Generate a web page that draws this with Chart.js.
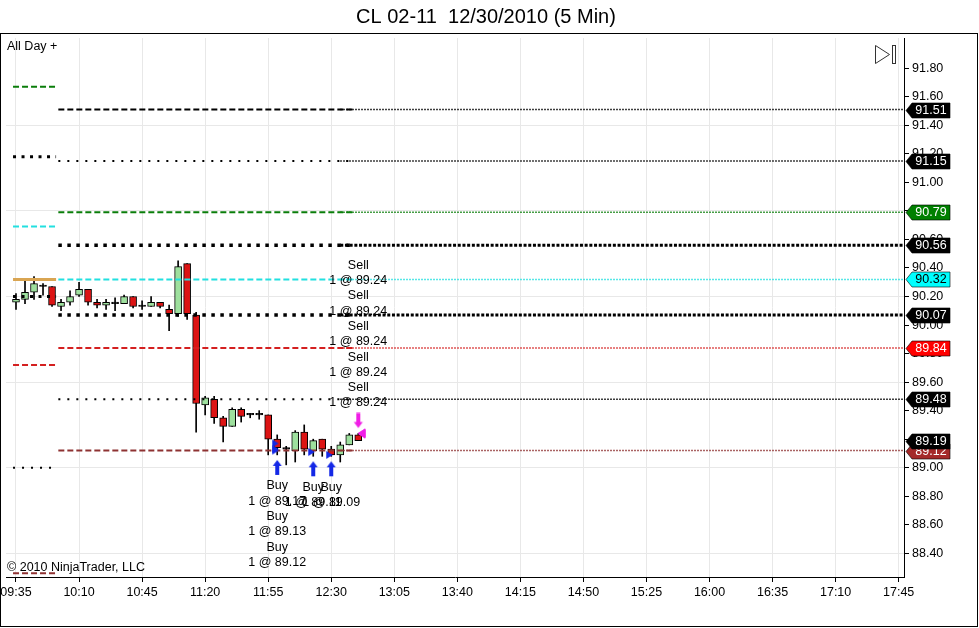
<!DOCTYPE html>
<html>
<head>
<meta charset="utf-8">
<title>CL 02-11 12/30/2010 (5 Min)</title>
<script src="https://cdn.jsdelivr.net/npm/chart.js@4.4.0/dist/chart.umd.min.js"></script>
<style>
    html, body { margin: 0; padding: 0; background: #ffffff; }
    #wrap { width: 979px; height: 628px; position: relative; }
</style>
</head>
<body>
<div id="wrap"><canvas id="chart"></canvas></div>
<script>
// 5 minute bars of CL 02-11, first bar at 09:35
const OPEN  = [90.16, 90.18, 90.23, 90.27, 90.27, 90.13, 90.16, 90.21, 90.25, 90.16,
               90.14, 90.15, 90.15, 90.20, 90.13, 90.13, 90.16, 90.11, 90.08, 90.43,
               90.07, 89.44, 89.48, 89.35, 89.29, 89.41, 89.37, 89.37, 89.37, 89.20,
               89.13, 89.12, 89.25, 89.12, 89.20, 89.13, 89.09, 89.16, 89.23];
const HIGH  = [90.22, 90.32, 90.34, 90.29, 90.27, 90.18, 90.24, 90.30, 90.25, 90.18,
               90.18, 90.19, 90.21, 90.20, 90.17, 90.20, 90.16, 90.14, 90.45, 90.43,
               90.09, 89.50, 89.50, 89.36, 89.42, 89.42, 89.38, 89.40, 89.37, 89.23,
               89.15, 89.26, 89.30, 89.20, 89.20, 89.15, 89.18, 89.24, 89.24];
const LOW   = [90.11, 90.15, 90.18, 90.21, 90.13, 90.10, 90.14, 90.20, 90.14, 90.12,
               90.11, 90.10, 90.15, 90.12, 90.11, 90.13, 90.12, 89.96, 90.06, 90.04,
               89.25, 89.37, 89.31, 89.18, 89.29, 89.32, 89.35, 89.34, 89.09, 89.09,
               89.02, 89.04, 89.09, 89.08, 89.08, 89.08, 89.04, 89.16, 89.19];
const CLOSE = [90.18, 90.23, 90.29, 90.27, 90.14, 90.16, 90.20, 90.25, 90.16, 90.14,
               90.16, 90.15, 90.20, 90.13, 90.13, 90.16, 90.13, 90.08, 90.41, 90.08,
               89.45, 89.49, 89.35, 89.29, 89.41, 89.36, 89.37, 89.37, 89.20, 89.14,
               89.13, 89.25, 89.13, 89.19, 89.13, 89.09, 89.16, 89.23, 89.19];

const TIME_LABELS = ['09:35', '10:10', '10:45', '11:20', '11:55', '12:30', '13:05', '13:40',
                     '14:15', '14:50', '15:25', '16:00', '16:35', '17:10', '17:45'];
const PRICE_TICKS = [88.40, 88.60, 88.80, 89.00, 89.20, 89.40, 89.60, 89.80, 90.00,
                     90.20, 90.40, 90.60, 90.80, 91.00, 91.20, 91.40, 91.60, 91.80];

// pivot style levels: today's session and the prior one
const TODAY_LEVELS = [91.51, 91.15, 90.79, 90.56, 90.32, 90.07, 89.84, 89.48, 89.12];
const PRIOR_LEVELS = [91.67, 91.18, 90.69, 90.32, 90.20, 89.72, 89.00, 88.26];

// executions
const BUY_BARS   = [29, 29, 29, 33, 35];
const BUY_PRICES = [89.17, 89.13, 89.12, 89.11, 89.09];
const BUY_QTY    = [1, 1, 1, 1, 1];
const SELL_BARS   = [38, 38, 38, 38, 38];
const SELL_PRICES = [89.24, 89.24, 89.24, 89.24, 89.24];
const SELL_QTY    = [1, 1, 1, 1, 1];

// ---- styling / layout ----
const FONT = '"Liberation Sans", Arial, sans-serif';
const BARS_PER_LABEL = 7;          // 35 minutes between time labels
const FIRST_BAR_PX = 16;           // where bar 0 sits on the canvas
const X_MIN = -1.554, X_MAX = 98.59;
const Y_MIN = 88.234, Y_MAX = 92.012;
const PRIOR_SPAN = [-0.33, 4.45];
const TODAY_SPAN = [4.7, 37.4];
const EXTEND_FROM = 36;

const LINE_STYLES = {
    blackDash:   { color: '#000000', dash: [6, 3], width: 2 },
    blackDot:    { color: '#000000', dash: [2, 7], width: 2 },
    blackSquare: { color: '#000000', dash: [3.5, 5.5], width: 3.5 },
    blackSmallSq:{ color: '#000000', dash: [3, 5.5], width: 3 },
    greenDash:   { color: '#0a7d0a', dash: [6, 3], width: 2 },
    cyanDash:    { color: '#22e0e0', dash: [6, 3], width: 2 },
    redDash:     { color: '#d42020', dash: [6, 3], width: 2 },
    brownDash:   { color: '#8e3232', dash: [6, 3], width: 2 },
    orangeSolid: { color: '#d9a552', dash: [], width: 3 }
};
const TODAY_STYLE = ['blackDash', 'blackDot', 'greenDash', 'blackSquare', 'cyanDash',
                     'blackSquare', 'redDash', 'blackDot', 'brownDash'];
const PRIOR_STYLE = ['greenDash', 'blackSmallSq', 'cyanDash', 'orangeSolid', 'blackSmallSq',
                     'redDash', 'blackDot', 'brownDash'];
const FLAG_STYLE = [
    { bg: '#000000', fg: '#ffffff' }, { bg: '#000000', fg: '#ffffff' },
    { bg: '#008000', fg: '#ffffff' }, { bg: '#000000', fg: '#ffffff' },
    { bg: '#00ffff', fg: '#000000' }, { bg: '#000000', fg: '#ffffff' },
    { bg: '#ff0000', fg: '#ffffff' }, { bg: '#000000', fg: '#ffffff' },
    { bg: '#a52a2a', fg: '#ffffff' }
];

const UP_COLOR = '#9ee09e';
const DOWN_COLOR = '#dc1414';

function lineSet(span, value, color, dash, width) {
    return {
        type: 'line',
        data: [{ x: span[0], y: value }, { x: span[1], y: value }],
        borderColor: color,
        borderDash: dash,
        borderWidth: width,
        borderCapStyle: 'butt',
        pointRadius: 0,
        fill: false,
        order: 1
    };
}

const levelSets = [];
PRIOR_LEVELS.forEach((v, k) => {
    const s = LINE_STYLES[PRIOR_STYLE[k]];
    levelSets.push(lineSet(PRIOR_SPAN, v, s.color, s.dash, s.width));
});
TODAY_LEVELS.forEach((v, k) => {
    const s = LINE_STYLES[TODAY_STYLE[k]];
    levelSets.push(lineSet(TODAY_SPAN, v, s.color, s.dash, s.width));
    // thin dotted extension towards the price axis
    const square = TODAY_STYLE[k] === 'blackSquare';
    levelSets.push(lineSet([EXTEND_FROM, X_MAX], v, s.color,
        square ? [3, 1.7] : [1.5, 1.5], square ? 3 : 1.5));
});

// candle colours
const bodyColors = OPEN.map((o, i) => CLOSE[i] > o ? UP_COLOR : (CLOSE[i] < o ? DOWN_COLOR : '#000000'));

// marker images
function markerCanvas(w, h, draw) {
    const c = document.createElement('canvas');
    c.width = w; c.height = h;
    const g = c.getContext('2d');
    draw(g, w / 2, h / 2);
    return c;
}
function arrow(g, cx, tipY, dir, color) {
    // dir = 1 points up (body below tip), -1 points down
    g.fillStyle = color;
    g.beginPath();
    g.moveTo(cx, tipY);
    g.lineTo(cx + 4.5, tipY + dir * 6);
    g.lineTo(cx + 2, tipY + dir * 6);
    g.lineTo(cx + 2, tipY + dir * 15);
    g.lineTo(cx - 2, tipY + dir * 15);
    g.lineTo(cx - 2, tipY + dir * 6);
    g.lineTo(cx - 4.5, tipY + dir * 6);
    g.closePath();
    g.fill();
}
const buyArrowImg = markerCanvas(12, 42, (g, cx, cy) => arrow(g, cx, cy + 5, 1, '#1428e6'));
const sellArrowImg = markerCanvas(12, 42, (g, cx, cy) => arrow(g, cx, cy - 5.5, -1, '#f01ee6'));
const entryImg = markerCanvas(14, 12, (g, cx, cy) => {
    g.fillStyle = '#1428e6';
    g.beginPath();
    g.moveTo(cx - 5, cy - 4); g.lineTo(cx + 1.5, cy); g.lineTo(cx - 5, cy + 4);
    g.closePath(); g.fill();
});
const exitImg = markerCanvas(18, 12, (g, cx, cy) => {
    g.fillStyle = '#f01ee6';
    g.beginPath();
    g.moveTo(cx, cy); g.lineTo(cx + 7, cy - 4.5); g.lineTo(cx + 7, cy + 4.5);
    g.closePath(); g.fill();
});

const buyArrowBars = [...new Set(BUY_BARS)];
const sellArrowBars = [...new Set(SELL_BARS)];

function markerSet(data, img) {
    return {
        type: 'scatter',
        data: data,
        pointStyle: img,
        pointRadius: 5,
        showLine: false,
        order: 0
    };
}

// chart furniture and execution labels
const decorPlugin = {
    id: 'decor',
    afterLayout(chart) {
        // keep bar 0 at FIRST_BAR_PX whatever left padding the layout ended up with
        const x = chart.scales.x;
        const perBar = (x.right - FIRST_BAR_PX) / x.max;
        x.min = -(FIRST_BAR_PX - x.left) / perBar;
        x.configure();
    },
    afterDraw(chart) {
        const { ctx, scales: { x, y } } = chart;
        ctx.save();

        // outer frame
        ctx.strokeStyle = '#000';
        ctx.lineWidth = 1;
        ctx.strokeRect(0.5, 33.5, 977, 593);

        // title
        ctx.fillStyle = '#000';
        ctx.textBaseline = 'middle';
        ctx.textAlign = 'center';
        ctx.font = '20px ' + FONT;
        ctx.fillText('CL 02-11  12/30/2010 (5 Min)', 486, 17);

        ctx.textAlign = 'left';
        ctx.font = '12.5px ' + FONT;
        ctx.fillText('All Day +', 7, 47);
        ctx.fillText('\u00a9 2010 NinjaTrader, LLC', 7, 568);

        // scroll-to-end icon
        ctx.strokeStyle = '#333';
        ctx.beginPath();
        ctx.moveTo(875.5, 45.5); ctx.lineTo(889.5, 54.5); ctx.lineTo(875.5, 63.5); ctx.closePath();
        ctx.stroke();
        ctx.strokeRect(892.5, 45.5, 3, 18);

        // execution labels
        ctx.textAlign = 'center';
        const LH = 15.3;
        const buyRow = {};
        BUY_BARS.forEach((b, k) => {
            const n = buyRow[b] || 0;
            buyRow[b] = n + 1;
            const px = x.getPixelForValue(b);
            const top = y.getPixelForValue(LOW[b]) + 31 + n * 2 * LH;
            ctx.fillText('Buy', px, top);
            ctx.fillText(BUY_QTY[k] + ' @ ' + BUY_PRICES[k].toFixed(2), px, top + LH);
        });
        const sellRow = {};
        SELL_BARS.forEach((b, k) => {
            const n = sellRow[b] || 0;
            sellRow[b] = n + 1;
            const px = x.getPixelForValue(b);
            const bottom = y.getPixelForValue(HIGH[b]) - 30.5 - n * 2 * LH;
            ctx.fillText(SELL_QTY[k] + ' @ ' + SELL_PRICES[k].toFixed(2), px, bottom);
            ctx.fillText('Sell', px, bottom - LH);
        });

        // price flags on the axis
        const left = chart.chartArea.right + 2;
        function flag(value, bg, fg) {
            const py = Math.round(y.getPixelForValue(value)) + 0.5;
            ctx.beginPath();
            ctx.moveTo(left, py);
            ctx.lineTo(left + 6, py - 7.5);
            ctx.lineTo(left + 44, py - 7.5);
            ctx.lineTo(left + 44, py + 7.5);
            ctx.lineTo(left + 6, py + 7.5);
            ctx.closePath();
            ctx.fillStyle = bg;
            ctx.fill();
            ctx.strokeStyle = 'rgba(0,0,0,0.6)';
            ctx.stroke();
            ctx.fillStyle = fg;
            ctx.font = '12.5px ' + FONT;
            ctx.fillText(value.toFixed(2), left + 25, py + 0.5);
        }
        TODAY_LEVELS.forEach((v, k) => flag(v, FLAG_STYLE[k].bg, FLAG_STYLE[k].fg));
        flag(CLOSE[CLOSE.length - 1], '#000000', '#ffffff');

        ctx.restore();
    }
};

new Chart(document.getElementById('chart'), {
    type: 'bar',
    data: {
        datasets: [
            markerSet(buyArrowBars.map(b => ({ x: b, y: LOW[b] })), buyArrowImg),
            markerSet(sellArrowBars.map(b => ({ x: b, y: HIGH[b] })), sellArrowImg),
            markerSet(BUY_BARS.map((b, k) => ({ x: b, y: BUY_PRICES[k] })), entryImg),
            markerSet(SELL_BARS.map((b, k) => ({ x: b, y: SELL_PRICES[k] })), exitImg),
            ...levelSets,
            {
                // candle bodies
                data: OPEN.map((o, i) => ({ x: i, y: [o, CLOSE[i]] })),
                backgroundColor: bodyColors,
                borderColor: '#000000',
                borderWidth: 1,
                borderSkipped: false,
                barThickness: 7,
                minBarLength: 1.5,
                grouped: false,
                order: 2
            },
            {
                // wicks
                data: LOW.map((l, i) => ({ x: i, y: [l, HIGH[i]] })),
                backgroundColor: '#000000',
                borderWidth: 0,
                barThickness: 1,
                grouped: false,
                order: 3
            }
        ]
    },
    options: {
        responsive: true,
        maintainAspectRatio: false,
        animation: false,
        layout: { padding: { left: 2, top: 38, right: 0, bottom: 0 } },
        plugins: {
            legend: { display: false },
            tooltip: { enabled: false },
            title: { display: false }
        },
        scales: {
            x: {
                type: 'linear',
                min: X_MIN,
                max: X_MAX,
                offset: false,
                grid: { color: '#e8e8e8', tickColor: '#000', tickLength: 5, offset: false },
                border: { color: '#000' },
                ticks: {
                    autoSkip: false,
                    maxRotation: 0,
                    padding: 3,
                    color: '#000',
                    font: { family: FONT, size: 12.5 },
                    callback: (v, i) => TIME_LABELS[i]
                },
                afterBuildTicks: s => {
                    s.ticks = TIME_LABELS.map((t, k) => ({ value: k * BARS_PER_LABEL }));
                },
                afterFit: s => {
                    s.height = 51;
                    s.paddingLeft = 0;
                    s.paddingRight = 0;
                }
            },
            y: {
                type: 'linear',
                position: 'right',
                min: Y_MIN,
                max: Y_MAX,
                beginAtZero: false,
                grid: {
                    color: ctx => {
                        if (!ctx.tick) return 'rgba(0,0,0,0)';
                        const step = Math.round((ctx.tick.value - PRICE_TICKS[0]) / 0.2);
                        return step % 3 === 0 ? '#e8e8e8' : 'rgba(0,0,0,0)';
                    },
                    tickColor: '#000',
                    tickLength: 5
                },
                border: { color: '#000' },
                ticks: {
                    padding: 3,
                    color: '#000',
                    font: { family: FONT, size: 12.5 },
                    callback: v => v.toFixed(2)
                },
                afterBuildTicks: s => {
                    s.ticks = PRICE_TICKS.map(v => ({ value: v }));
                },
                afterFit: s => {
                    s.width = 75;
                    s.paddingTop = 0;
                    s.paddingBottom = 0;
                }
            }
        }
    },
    plugins: [decorPlugin]
});
</script>
</body>
</html>
